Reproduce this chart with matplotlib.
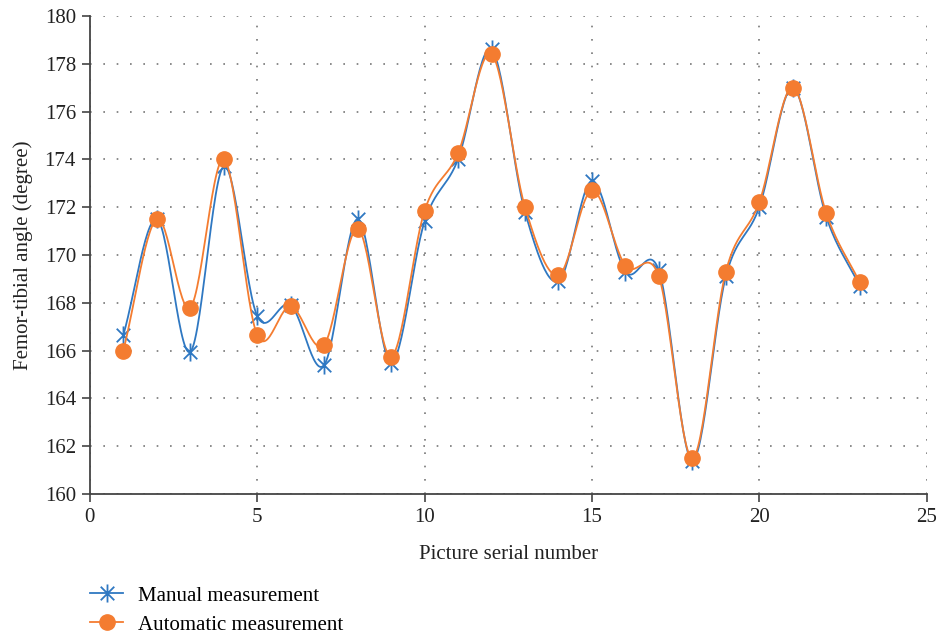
import numpy as np
import matplotlib.pyplot as plt
from matplotlib.path import Path

# picture serial numbers and femor-tibial angles (degree)
serial = list(range(1, 24))
manual = [166.65, 171.5, 165.95, 173.7, 167.45, 167.9, 165.4, 171.5, 165.5, 171.4,
          174.0, 178.6, 171.8, 168.9, 173.1, 169.3, 169.35, 161.4, 169.1, 172.0,
          177.0, 171.6, 168.7]
automatic = [166.0, 171.5, 167.8, 174.0, 166.65, 167.85, 166.25, 171.1, 165.75, 171.85,
             174.25, 178.4, 172.0, 169.15, 172.7, 169.55, 169.1, 161.5, 169.3, 172.2,
             177.0, 171.75, 168.85]

BLUE = '#2f78c2'
ORANGE = '#f47c30'
FS = 15

plt.rcParams['font.family'] = ['Liberation Serif', 'DejaVu Serif']


def smooth(x, y, n=30):
    """Catmull-Rom curve through the points (like a smoothed line)"""
    x = np.asarray(x, float)
    y = np.asarray(y, float)
    px = np.concatenate([[2 * x[0] - x[1]], x, [2 * x[-1] - x[-2]]])
    py = np.concatenate([[2 * y[0] - y[1]], y, [2 * y[-1] - y[-2]]])
    t = np.linspace(0, 1, n)[:, None]
    xs, ys = [], []
    for i in range(1, len(px) - 2):
        for arr, out in ((px, xs), (py, ys)):
            p0, p1, p2, p3 = arr[i - 1], arr[i], arr[i + 1], arr[i + 2]
            c = 0.5 * ((2 * p1) + (-p0 + p2) * t + (2 * p0 - 5 * p1 + 4 * p2 - p3) * t ** 2
                       + (-p0 + 3 * p1 - 3 * p2 + p3) * t ** 3)
            out.append(c.ravel())
    return np.concatenate(xs), np.concatenate(ys)


# star marker: vertical bar plus an X
star = Path([(0, -1), (0, 1), (-0.75, -0.75), (0.75, 0.75), (-0.75, 0.75), (0.75, -0.75)],
            [Path.MOVETO, Path.LINETO, Path.MOVETO, Path.LINETO, Path.MOVETO, Path.LINETO])

fig = plt.figure(figsize=(9.36, 6.35), dpi=100)
ax = fig.add_axes([0.096, 0.222, 0.894, 0.753])

sx, sy = smooth(serial, manual)
ax.plot(sx, sy, color=BLUE, lw=1.3, zorder=3)
ax.plot(serial, manual, ls='none', marker=star, ms=13, mew=1.3, color=BLUE, zorder=4)
ax.plot([], [], color=BLUE, lw=1.3, marker=star, ms=13, mew=1.3, label='Manual measurement')

sx, sy = smooth(serial, automatic)
ax.plot(sx, sy, color=ORANGE, lw=1.3, zorder=5)
ax.plot(serial, automatic, ls='none', marker='o', ms=11, color=ORANGE, zorder=6)
ax.plot([], [], color=ORANGE, lw=1.3, marker='o', ms=11, label='Automatic measurement')

ax.set_xlim(0, 25)
ax.set_ylim(160, 180)
ax.set_xticks(range(0, 26, 5))
ax.set_yticks(range(160, 181, 2))
ax.grid(True, color='#777777', ls=(0, (1, 7)), lw=1.2)
ax.set_axisbelow(True)
for s in ('top', 'right'):
    ax.spines[s].set_visible(False)
for s in ('left', 'bottom'):
    ax.spines[s].set_color('#444444')
    ax.spines[s].set_linewidth(1.3)
ax.tick_params(labelsize=FS, colors='#222222', length=6, width=1.2, pad=4)
ax.tick_params(axis='both', color='#444444')
ax.set_xlabel('Picture serial number', fontsize=FS, color='#222222', labelpad=13)
ax.set_ylabel('Femor-tibial angle (degree)', fontsize=FS, color='#222222', labelpad=8)

fig.legend(loc='upper left', bbox_to_anchor=(0.096, 0.077), frameon=False,
           fontsize=FS, handlelength=1.6, labelspacing=0.45, handletextpad=0.7,
           borderpad=0, borderaxespad=0)

fig.savefig('out.png', dpi=100)
